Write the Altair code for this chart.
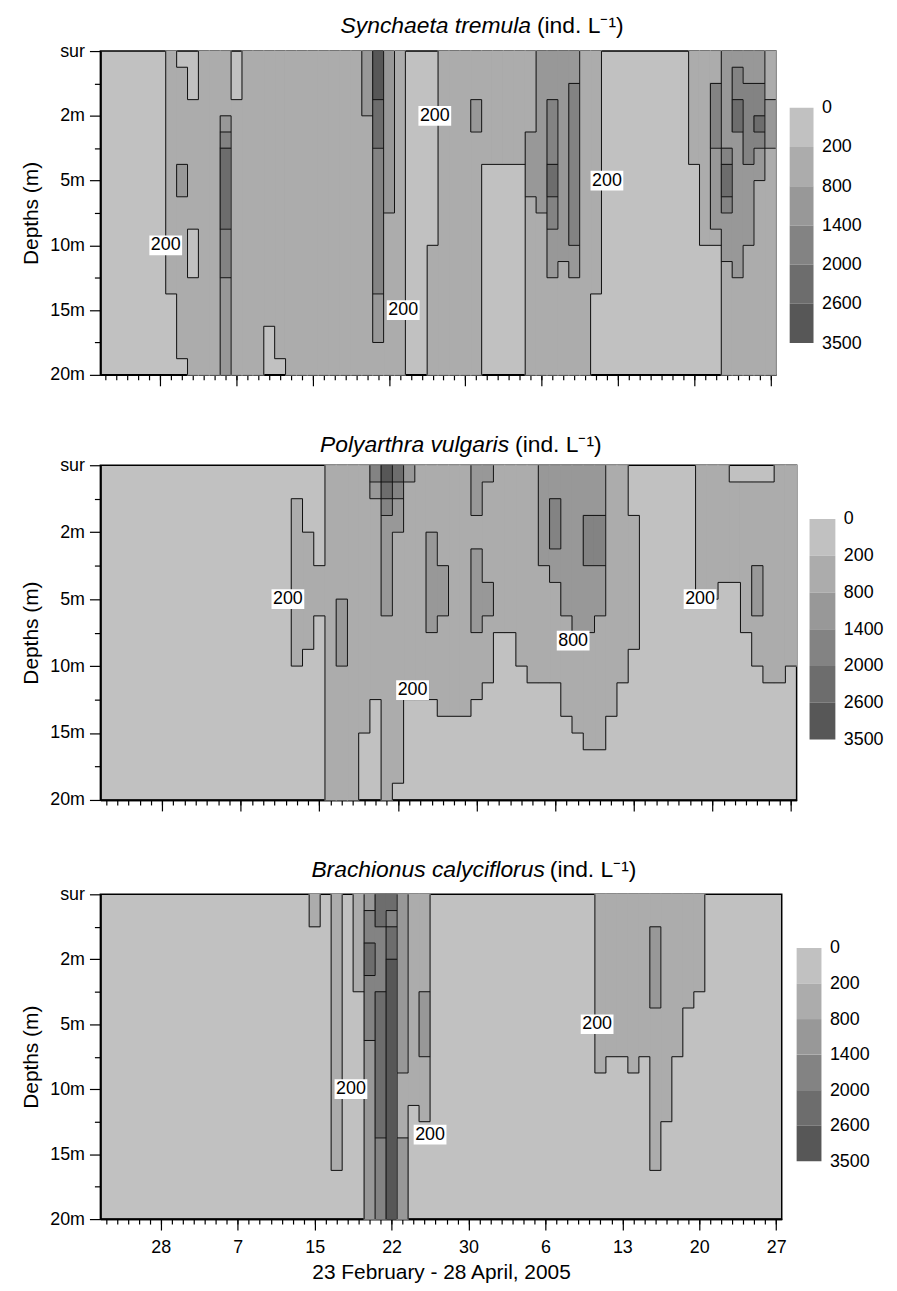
import json
import altair as alt
import pandas as pd

FONT = "Liberation Sans"

# ---------------- axes / categories ----------------
DAYS = list(range(62))                      # one column per sampling day, 23 Feb .. 28 Apr
DEPTH_LEVELS = [0, 1, 2, 3, 4, 5]
DEPTH_LABELS = ["sur", "2m", "5m", "10m", "15m", "20m"]
DEPTH_MINOR = [0.5, 1.5, 2.5, 3.5, 4.5]
X_MAJOR = [5, 12, 19, 26, 33, 40, 47, 54, 61]
X_LABELS = ["28", "7", "15", "22", "30", "6", "13", "20", "27"]
X_TITLE = "23 February - 28 April, 2005"
LEGEND_LABELS = ["0", "200", "800", "1400", "2000", "2600", "3500"]
CLASSES = [0, 1, 2, 3, 4, 5]
GRAYS = ["#c1c1c1", "#acacac", "#989898", "#838383", "#6d6d6d", "#575757"]

# ---------------- data: density class per day (column), surface -> 20 m in quarter-level steps ----
SYN_COLS = [
    "00000000000000000000", "00000000000000000000", "00000000000000000000",
    "00000000000000000000", "00000000000000000000", "00000000000000000000",
    "11111111111111100000", "01111112211111111110", "00011111111000111111",
    "11111111111111111111", "11111111111111111111", "11112344444333222222",
    "00011111111111111111", "11111111111111111111", "11111111111111111111",
    "11111111111111111000", "11111111111111111110", "11111111111111111111",
    "11111111111111111111", "11111111111111111111", "11111111111111111111",
    "11111111111111111111", "11111111111111111111", "11111111111111111111",
    "22221111111111111111", "55544433333333322211", "22222222221111111111",
    "11111111111111111111", "00000000000000000000", "00000000000000000000",
    "00000000000011111111", "11111111111111111111", "11111111111111111111",
    "11111111111111111111", "11122111111111111111", "11111110000000000000",
    "11111110000000000000", "11111110000000000000", "11111110000000000000",
    "11111222211111111111", "22222222221111111111", "22233334433222111111",
    "22222222222221111111", "22333333333322111111", "11111111111111111111",
    "11111111111111100000", "00000000000000000000", "00000000000000000000",
    "00000000000000000000", "00000000000000000000", "00000000000000000000",
    "00000000000000000000", "00000000000000000000", "00000000000000000000",
    "11111110000000000000", "11111111111100000000", "11333322222100000000",
    "22222234432221111111", "23344222222222111111", "22333332222211111111",
    "22334322111111111111", "11122211111111111111",
]

POL_COLS = [
    "00000000000000000000", "00000000000000000000", "00000000000000000000",
    "00000000000000000000", "00000000000000000000", "00000000000000000000",
    "00000000000000000000", "00000000000000000000", "00000000000000000000",
    "00000000000000000000", "00000000000000000000", "00000000000000000000",
    "00000000000000000000", "00000000000000000000", "00000000000000000000",
    "00000000000000000000", "00000000000000000000",
    "00111111111100000000", "00001111111000000000", "00000011100000000000",
    "11111111111111111111", "11111111222211111111", "11111111111111111111",
    "11111111111111110000", "32111111111111000000", "54322222211111111111",
    "43221111111111111110", "21111111111111000000", "11111111111111000000",
    "11112222221111000000", "11111122211111100000", "11111111111111100000",
    "11111111111111100000", "22211222221111000000", "21111112211110000000",
    "11111111110000000000", "11111111110000000000", "11111111111100000000",
    "11111111111110000000", "22222211111110000000", "22333221111110000000",
    "22222222211111100000", "22222222221111110000", "22233322221111111000",
    "22233322211111111000", "11111111111111100000", "11111111111110000000",
    "00011111111000000000",
    "00000000000000000000", "00000000000000000000", "00000000000000000000",
    "00000000000000000000", "00000000000000000000",
    "11111111000000000000", "11111111000000000000", "11111110000000000000",
    "01111110000000000000", "01111111110000000000", "01111122211100000000",
    "01111111111110000000", "11111111111110000000", "11111111111100000000",
]

BRA_COLS = [
    "00000000000000000000", "00000000000000000000", "00000000000000000000",
    "00000000000000000000", "00000000000000000000", "00000000000000000000",
    "00000000000000000000", "00000000000000000000", "00000000000000000000",
    "00000000000000000000", "00000000000000000000", "00000000000000000000",
    "00000000000000000000", "00000000000000000000", "00000000000000000000",
    "00000000000000000000", "00000000000000000000", "00000000000000000000",
    "00000000000000000000",
    "11000000000000000000", "00000000000000000000", "11111111111111111000",
    "00000000000000000000", "11111100000000000000", "23344333322222222222",
    "44333344444444433333", "43445555555555555555", "22222222222111122222",
    "11111111111110000000", "11111122221111000000",
    "00000000000000000000", "00000000000000000000", "00000000000000000000",
    "00000000000000000000", "00000000000000000000", "00000000000000000000",
    "00000000000000000000", "00000000000000000000", "00000000000000000000",
    "00000000000000000000", "00000000000000000000", "00000000000000000000",
    "00000000000000000000", "00000000000000000000", "00000000000000000000",
    "11111111111000000000", "11111111110000000000", "11111111110000000000",
    "11111111111000000000", "11111111110000000000", "11222221111111111000",
    "11111111111111000000", "11111111110000000000", "11111110000000000000",
    "11111100000000000000",
    "00000000000000000000", "00000000000000000000", "00000000000000000000",
    "00000000000000000000", "00000000000000000000", "00000000000000000000",
    "00000000000000000000",
]

# contour labels: day index, depth level, text
SYN_NOTE_DAY = [5.5, 30.2, 27.3, 46.0]
SYN_NOTE_LEVEL = [3.0, 1.0, 4.0, 2.0]
SYN_NOTE_TEXT = ["200", "200", "200", "200"]
POL_NOTE_DAY = [16.2, 27.3, 41.6, 52.9]
POL_NOTE_LEVEL = [2.0, 3.36, 2.62, 2.0]
POL_NOTE_TEXT = ["200", "200", "800", "200"]
BRA_NOTE_DAY = [22.3, 29.5, 44.7]
BRA_NOTE_LEVEL = [3.0, 3.7, 2.0]
BRA_NOTE_TEXT = ["200", "200", "200"]

SPECIES = ["Synchaeta tremula", "Polyarthra vulgaris", "Brachionus calyciflorus"]
UNITS = "(ind. L\u207b\u00b9)"

NSUB = 20  # quarter-level rows


def fix(col):
    return (col + col[-1] * NSUB)[:NSUB]


def cell_frame(cols):
    recs = []
    for u, col in enumerate(cols):
        col = fix(col)
        k = 0
        while k < NSUB:
            j = k
            while j < NSUB and col[j] == col[k]:
                j += 1
            if col[k] != "0":
                recs.append({"x": u - 0.5, "x2": u + 0.5, "y": k / 4, "y2": j / 4, "cls": int(col[k])})
            k = j
    return pd.DataFrame(recs)


def edge_frame(cols):
    cols = [fix(c) for c in cols]
    n = len(cols)
    segs = []
    for u in range(n - 1):
        k = 0
        while k < NSUB:
            if cols[u][k] != cols[u + 1][k]:
                k0 = k
                while k < NSUB and cols[u][k] != cols[u + 1][k]:
                    k += 1
                segs.append({"x": u + 0.5, "x2": u + 0.5, "y": k0 / 4, "y2": k / 4})
            else:
                k += 1
    for k in range(NSUB - 1):
        u = 0
        while u < n:
            if cols[u][k] != cols[u][k + 1]:
                u0 = u
                while u < n and cols[u][k] != cols[u][k + 1]:
                    u += 1
                segs.append({"x": u0 - 0.5, "x2": u - 0.5, "y": (k + 1) / 4, "y2": (k + 1) / 4})
            else:
                u += 1
    return pd.DataFrame(segs)


X_LABEL_EXPR = f"{json.dumps(X_LABELS)}[indexof({json.dumps(X_MAJOR)}, datum.value)]"
Y_LABEL_EXPR = f"{json.dumps(DEPTH_LABELS)}[round(datum.value)]"
LEG_LABEL_EXPR = f"{json.dumps(LEGEND_LABELS)}[round(datum.value)]"

BOX = "M-1,-0.6L1,-0.6L1,0.6L-1,0.6Z"


def make_panel(cols, nday, nlevel, ntext, species, split, title_pad_top, width, height, show_x):
    xs = alt.Scale(domain=[DAYS[0] - 0.5, DAYS[-1] + 0.5], nice=False, zero=False)
    ys = alt.Scale(domain=[DEPTH_LEVELS[0], DEPTH_LEVELS[-1]], reverse=True, nice=False, zero=False)
    cs = alt.Scale(domain=CLASSES, range=GRAYS)
    common = dict(domainColor="black", domainWidth=1.5, tickColor="black", tickWidth=1.2, grid=False)

    x_minor = alt.Axis(orient="bottom", values=DAYS, labels=False, tickSize=5, title=None, **common)
    if show_x:
        x_major = alt.Axis(orient="bottom", values=X_MAJOR, tickSize=11, labelExpr=X_LABEL_EXPR,
                           labelFontSize=18, labelPadding=9, labelFont=FONT, labelColor="black",
                           title=X_TITLE, titleFontSize=21, titleFont=FONT, titleFontWeight="normal",
                           titleColor="black", titlePadding=5, **common)
    else:
        x_major = alt.Axis(orient="bottom", values=X_MAJOR, tickSize=11, labels=False, title=None, **common)
    y_major = alt.Axis(orient="left", values=DEPTH_LEVELS, tickSize=11, labelExpr=Y_LABEL_EXPR,
                       labelFontSize=18, labelPadding=5, labelFont=FONT, labelColor="black",
                       title="Depths (m)", titleFontSize=21, titleFont=FONT, titleFontWeight="normal",
                       titleColor="black", titlePadding=8, **common)
    y_minor = alt.Axis(orient="left", values=DEPTH_MINOR, tickSize=6, labels=False, title=None, **common)

    # panel heading written as a top axis: italic species name, then the units
    mid = (split[0] + split[1]) / 2
    head_axis = alt.Axis(
        orient="top", values=split, ticks=False, domain=False, grid=False, title=None,
        labelExpr=f"datum.value < {mid} ? {json.dumps(species)} : {json.dumps(UNITS)}",
        labelFont=FONT, labelFontSize=23, labelColor="black", labelBaseline="alphabetic",
        labelPadding=title_pad_top, labelOverlap=False, labelFlush=False, labelBound=False,
        labelLimit=600,
        labelAlign={"condition": {"test": f"datum.value < {mid}", "value": "right"}, "value": "left"},
        labelFontStyle={"condition": {"test": f"datum.value < {mid}", "value": "italic"}, "value": "normal"},
    )

    cells = alt.Chart(cell_frame(cols)).mark_rect(strokeWidth=1.2).encode(
        x=alt.X("x:Q", scale=xs, axis=x_minor),
        x2="x2:Q",
        y=alt.Y("y:Q", scale=ys, axis=y_major),
        y2="y2:Q",
        color=alt.Color("cls:O", scale=cs, legend=None),
        stroke=alt.Stroke("cls:O", scale=cs, legend=None),
    )
    edges = alt.Chart(edge_frame(cols)).mark_rule(color="#111111", strokeWidth=1).encode(
        x=alt.X("x:Q", scale=xs, axis=x_major),
        x2="x2:Q",
        y=alt.Y("y:Q", scale=ys, axis=y_minor),
        y2="y2:Q",
    )
    notes = pd.DataFrame({"day": nday, "level": nlevel, "text": ntext})
    boxes = alt.Chart(notes).mark_point(shape=BOX, size=1089, filled=True, color="white", opacity=1).encode(
        x=alt.X("day:Q", scale=xs, axis=head_axis),
        y=alt.Y("level:Q", scale=ys, axis=None),
    )
    texts = alt.Chart(notes).mark_text(font=FONT, fontSize=18, color="black").encode(
        x=alt.X("day:Q", scale=xs, axis=None),
        y=alt.Y("level:Q", scale=ys, axis=None),
        text="text:N",
    )
    return alt.layer(cells, edges, boxes, texts).resolve_axis(x="independent", y="independent").properties(
        width=width, height=height,
    )


def make_legend(plot_h, top, band, width):
    df = pd.DataFrame({"lo": CLASSES, "hi": [c + 1 for c in CLASSES], "cls": CLASSES})
    d0 = -top / band
    d1 = d0 + plot_h / band
    ys = alt.Scale(domain=[d0, d1], reverse=True, nice=False, zero=False)
    cs = alt.Scale(domain=CLASSES, range=GRAYS)
    return alt.Chart(df).mark_rect().encode(
        y=alt.Y("lo:Q", scale=ys, axis=alt.Axis(orient="right", values=list(range(len(LEGEND_LABELS))),
                                                 labelExpr=LEG_LABEL_EXPR, domain=False, ticks=False, grid=False,
                                                 labelFontSize=18, labelFont=FONT, labelColor="black",
                                                 labelPadding=8, title=None)),
        y2="hi:Q",
        color=alt.Color("cls:O", scale=cs, legend=None),
    ).properties(width=width, height=plot_h,
                 view=alt.ViewBackground(stroke="transparent", fill="transparent"))


def make_row(cols, nd, nl, nt, species, split, tpad, w, h, show_x, leg_top, leg_band, leg_w, gap):
    plot = make_panel(cols, nd, nl, nt, species, split, tpad, w, h, show_x)
    leg = make_legend(h, leg_top, leg_band, leg_w)
    return alt.hconcat(plot, leg, spacing=gap)


row1 = make_row(SYN_COLS, SYN_NOTE_DAY, SYN_NOTE_LEVEL, SYN_NOTE_TEXT, SPECIES[0], [38.98, 39.53], 19,
                680, 326, False, 57, 39.5, 24, 11)
row2 = make_row(POL_COLS, POL_NOTE_DAY, POL_NOTE_LEVEL, POL_NOTE_TEXT, SPECIES[1], [35.85, 36.38], 14,
                701, 337, False, 54, 37, 26, 10)
row3 = make_row(BRA_COLS, BRA_NOTE_DAY, BRA_NOTE_LEVEL, BRA_NOTE_TEXT, SPECIES[2], [39.9, 40.35], 18,
                686, 327, True, 54, 35.8, 25, 8)

chart = alt.vconcat(row1, row2, row3, spacing=45).properties(
    padding={"left": 12, "top": 1, "right": 5, "bottom": 0},
    background="white",
).configure_view(stroke="black", strokeWidth=1.5, fill=GRAYS[0])

chart.save("out.html", embed_options={"renderer": "svg", "actions": False})
